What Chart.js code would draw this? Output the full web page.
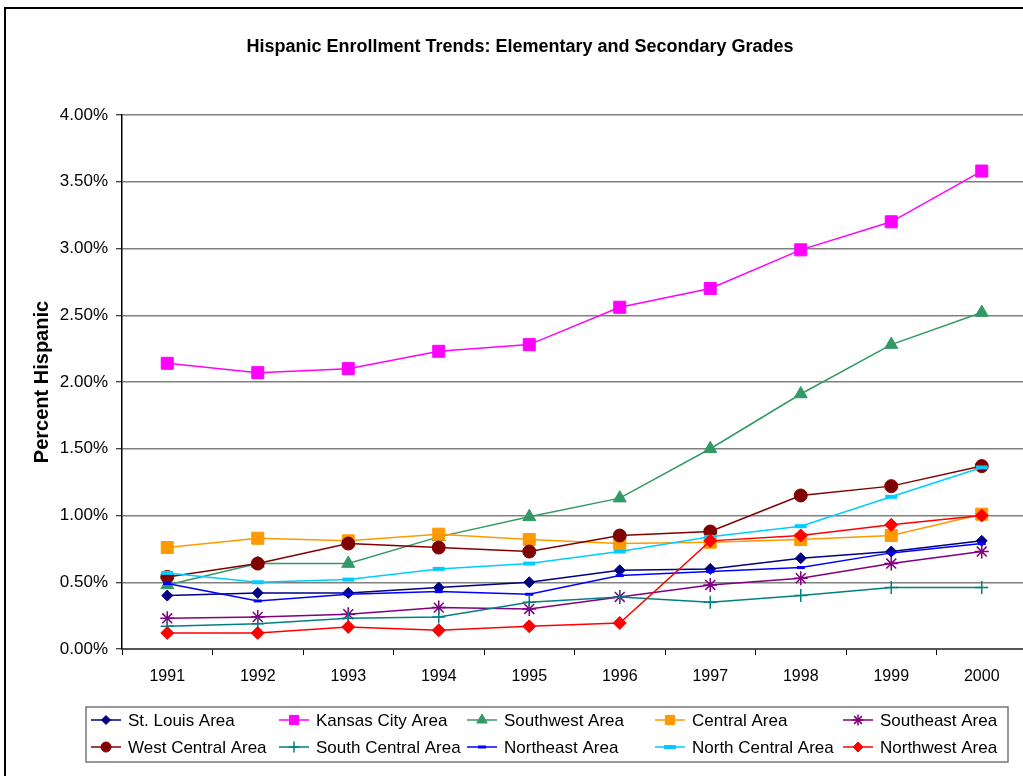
<!DOCTYPE html>
<html>
<head>
<meta charset="utf-8">
<script src="https://cdn.jsdelivr.net/npm/chart.js@4/dist/chart.umd.min.js"></script>
<style>
  html, body { margin: 0; padding: 0; background: #fff; overflow: hidden; width: 1023px; height: 776px; }
  #wrap { position: absolute; left: 0; top: 0; width: 1023px; height: 776px; overflow: hidden; }
  canvas { display: block; }
</style>
</head>
<body>
<div id="wrap"><canvas id="c" width="1037" height="776"></canvas></div>
<script>
// School years and percent Hispanic enrollment by region
const years = ['1991', '1992', '1993', '1994', '1995', '1996', '1997', '1998', '1999', '2000'];

const stLouis      = [0.40, 0.42, 0.42, 0.46, 0.50, 0.59, 0.60, 0.68, 0.73, 0.81];
const kansasCity   = [2.14, 2.07, 2.10, 2.23, 2.28, 2.56, 2.70, 2.99, 3.20, 3.58];
const southwest    = [0.48, 0.64, 0.64, 0.84, 0.99, 1.13, 1.50, 1.91, 2.28, 2.52];
const central      = [0.76, 0.83, 0.81, 0.86, 0.82, 0.79, 0.80, 0.82, 0.85, 1.01];
const southeast    = [0.23, 0.24, 0.26, 0.31, 0.30, 0.39, 0.48, 0.53, 0.64, 0.73];
const westCentral  = [0.54, 0.64, 0.79, 0.76, 0.73, 0.85, 0.88, 1.15, 1.22, 1.37];
const southCentral = [0.17, 0.19, 0.23, 0.24, 0.35, 0.39, 0.35, 0.40, 0.46, 0.46];
const northeast    = [0.49, 0.36, 0.41, 0.43, 0.41, 0.55, 0.58, 0.61, 0.72, 0.79];
const northCentral = [0.57, 0.50, 0.52, 0.60, 0.64, 0.73, 0.84, 0.92, 1.14, 1.36];
const northwest    = [0.12, 0.12, 0.165, 0.14, 0.17, 0.195, 0.81, 0.85, 0.93, 1.00];

const yTicks = [0, 0.5, 1.0, 1.5, 2.0, 2.5, 3.0, 3.5, 4.0];

const FONT = "'Liberation Sans', Arial, Helvetica, sans-serif";

// series: label, values, colour, marker style / size, legend marker size
const seriesDefs = [
  { label: 'St. Louis Area',      data: stLouis,      color: '#000080', style: 'rectRot',  r: 5.5, bw: 1, lr: 4.5 },
  { label: 'Kansas City Area',    data: kansasCity,   color: '#FF00FF', style: 'rect',     r: 8.5, bw: 1, lr: 6.5 },
  { label: 'Southwest Area',      data: southwest,    color: '#339966', style: 'triangle', r: 7.5, bw: 1, lr: 6 },
  { label: 'Central Area',        data: central,      color: '#FF9900', style: 'rect',     r: 8.5, bw: 1, lr: 6.5 },
  { label: 'Southeast Area',      data: southeast,    color: '#800080', style: 'star',     r: 7,   bw: 1.5, lr: 5.5 },
  { label: 'West Central Area',   data: westCentral,  color: '#800000', style: 'circle',   r: 6.5, bw: 1, lr: 5 },
  { label: 'South Central Area',  data: southCentral, color: '#008080', style: 'cross',    r: 6.5, bw: 1.5, lr: 5.5 },
  { label: 'Northeast Area',      data: northeast,    color: '#0000FF', style: 'line',     r: 4,   bw: 3, lr: 4 },
  { label: 'North Central Area',  data: northCentral, color: '#00CCFF', style: 'line',     r: 6,   bw: 4, lr: 6 },
  { label: 'Northwest Area',      data: northwest,    color: '#FF0000', style: 'rectRot',  r: 6.5, bw: 1, lr: 5 }
];

const datasets = seriesDefs.map((s, i) => ({
  label: s.label,
  data: s.data,
  borderColor: s.color,
  backgroundColor: s.color,
  borderWidth: 1.5,
  pointStyle: s.style,
  pointRadius: s.r,
  pointHoverRadius: s.r,
  pointBorderWidth: s.bw,
  pointBorderColor: s.color,
  pointBackgroundColor: s.color,
  tension: 0,
  fill: false,
  order: seriesDefs.length - i   // later series painted on top
}));

// frame, heading and boxed legend laid out in a 5 x 2 grid
const decorations = {
  id: 'decorations',
  afterDraw(chart) {
    const ctx = chart.ctx;
    ctx.save();

    // outer frame
    ctx.strokeStyle = '#000';
    ctx.lineWidth = 2;
    ctx.strokeRect(5, 8, 1100, 900);

    // heading
    ctx.fillStyle = '#000';
    ctx.font = 'bold 18px ' + FONT;
    ctx.textAlign = 'center';
    ctx.textBaseline = 'middle';
    ctx.fillText('Hispanic Enrollment Trends: Elementary and Secondary Grades', 520, 47);

    // legend box
    ctx.strokeStyle = '#777';
    ctx.lineWidth = 1.5;
    ctx.strokeRect(86, 707, 922, 55);

    const colX = [91, 279, 467, 655, 843];
    const rowY = [720, 747];
    ctx.font = '17px ' + FONT;
    ctx.textAlign = 'left';
    seriesDefs.forEach((s, i) => {
      const x0 = colX[i % 5];
      const y0 = rowY[Math.floor(i / 5)];
      ctx.strokeStyle = s.color;
      ctx.fillStyle = s.color;
      ctx.lineWidth = 1.5;
      ctx.beginPath();
      ctx.moveTo(x0, y0);
      ctx.lineTo(x0 + 30, y0);
      ctx.stroke();
      ctx.lineWidth = s.bw;
      Chart.helpers.drawPoint(ctx, { pointStyle: s.style, radius: s.lr, borderWidth: s.bw, rotation: 0 }, x0 + 15, y0);
      ctx.fillStyle = '#000';
      ctx.fillText(s.label, x0 + 37, y0 + 1);
    });
    ctx.restore();
  }
};

new Chart(document.getElementById('c'), {
  type: 'line',
  data: { labels: years, datasets },
  options: {
    responsive: false,
    animation: false,
    devicePixelRatio: 1,
    layout: { padding: { left: 30, top: 115, right: 4, bottom: 87 } },
    plugins: {
      legend: { display: false },
      title: { display: false },
      tooltip: { enabled: false }
    },
    scales: {
      x: {
        offset: true,
        grid: { offset: true, drawOnChartArea: false, drawTicks: true, tickLength: 6, tickColor: '#000', tickWidth: 1 },
        border: { color: '#555', width: 2 },
        ticks: { color: '#000', font: { family: FONT, size: 16 }, padding: 12, maxRotation: 0 },
        afterFit(scale) { scale.height = 40; }
      },
      y: {
        min: 0,
        max: 4,
        afterBuildTicks(scale) { scale.ticks = yTicks.map(v => ({ value: v })); },
        grid: { color: '#808080', lineWidth: 1.5, tickLength: 6, tickColor: '#000', tickWidth: 1 },
        border: { color: '#000', width: 1.5 },
        ticks: {
          color: '#000',
          font: { family: FONT, size: 17 },
          padding: 8,
          callback: v => v.toFixed(2) + '%'
        },
        title: {
          display: true,
          text: 'Percent Hispanic',
          color: '#000',
          font: { family: FONT, size: 20, weight: 'bold' },
          padding: { top: 0, bottom: 0 }
        },
        afterFit(scale) { scale.width = 92; }
      }
    }
  },
  plugins: [decorations]
});
</script>
</body>
</html>
